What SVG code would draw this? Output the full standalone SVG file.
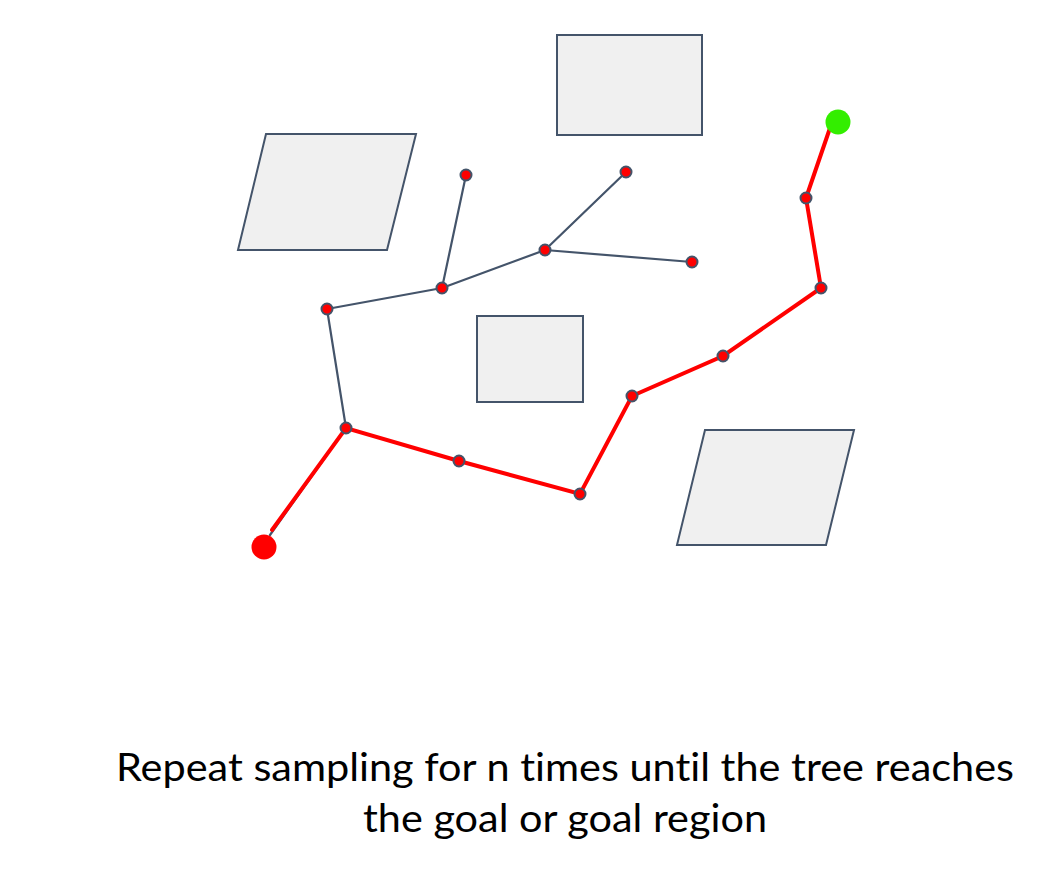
<svg xmlns="http://www.w3.org/2000/svg" width="1060" height="896" viewBox="0 0 1060 896">
<style>
.obs{fill:#f0f0f0;stroke:#44546a;stroke-width:2}
.tree{stroke:#44546a;stroke-width:2.2;fill:none;stroke-linecap:round}
.path{stroke:#ff0000;stroke-width:4;fill:none;stroke-linecap:round}
.node{fill:#ff0000;stroke:#44546a;stroke-width:2}
.lbl{font-family:Lato,"Open Sans",sans-serif;font-size:39px;fill:#000;text-anchor:middle;font-variant-ligatures:none}
</style>
<rect width="1060" height="896" fill="#fff"/>
<g id="obstacles">
<rect id="obs-top" class="obs" x="557" y="35" width="145" height="100"/>
<polygon id="obs-left" class="obs" points="266,134 416,134 387,250 238,250"/>
<rect id="obs-mid" class="obs" x="477" y="316" width="106" height="86"/>
<polygon id="obs-br" class="obs" points="705,430 854,430 826,545 677,545"/>
</g>
<g id="connectors">
<line class="tree" x1="270" y1="535" x2="346" y2="428"/>
<line class="tree" x1="346" y1="428" x2="327" y2="309"/>
<line class="tree" x1="327" y1="309" x2="442" y2="288"/>
<line class="tree" x1="442" y1="288" x2="466" y2="175"/>
<line class="tree" x1="442" y1="288" x2="545" y2="250"/>
<line class="tree" x1="545" y1="250" x2="626" y2="172"/>
<line class="tree" x1="545" y1="250" x2="692" y2="262"/>
<polyline class="path" points="272,530 346,428 459,461 580,494 632,396 723,356 821,288 806,198 830,128"/>
</g>
<g id="start"><circle cx="264" cy="547" r="12.5" fill="#ff0000"/></g>
<g id="goal"><circle cx="838" cy="122" r="12.5" fill="#33ee00"/></g>
<g id="n1"><circle class="node" cx="346" cy="428" r="5.5"/></g>
<g id="n2"><circle class="node" cx="327" cy="309" r="5.5"/></g>
<g id="n3"><circle class="node" cx="442" cy="288" r="5.5"/></g>
<g id="n4"><circle class="node" cx="466" cy="175" r="5.5"/></g>
<g id="n5"><circle class="node" cx="545" cy="250" r="5.5"/></g>
<g id="n6"><circle class="node" cx="626" cy="172" r="5.5"/></g>
<g id="n7"><circle class="node" cx="692" cy="262" r="5.5"/></g>
<g id="n8"><circle class="node" cx="459" cy="461" r="5.5"/></g>
<g id="n9"><circle class="node" cx="580" cy="494" r="5.5"/></g>
<g id="n10"><circle class="node" cx="632" cy="396" r="5.5"/></g>
<g id="n11"><circle class="node" cx="723" cy="356" r="5.5"/></g>
<g id="n12"><circle class="node" cx="821" cy="288" r="5.5"/></g>
<g id="n13"><circle class="node" cx="806" cy="198" r="5.5"/></g>
<g id="caption">
<text class="lbl" x="565" y="781" textLength="898" lengthAdjust="spacingAndGlyphs">Repeat sampling for n times until the tree reaches</text>
<text class="lbl" x="565" y="832" textLength="404" lengthAdjust="spacingAndGlyphs">the goal or goal region</text>
</g>
</svg>
